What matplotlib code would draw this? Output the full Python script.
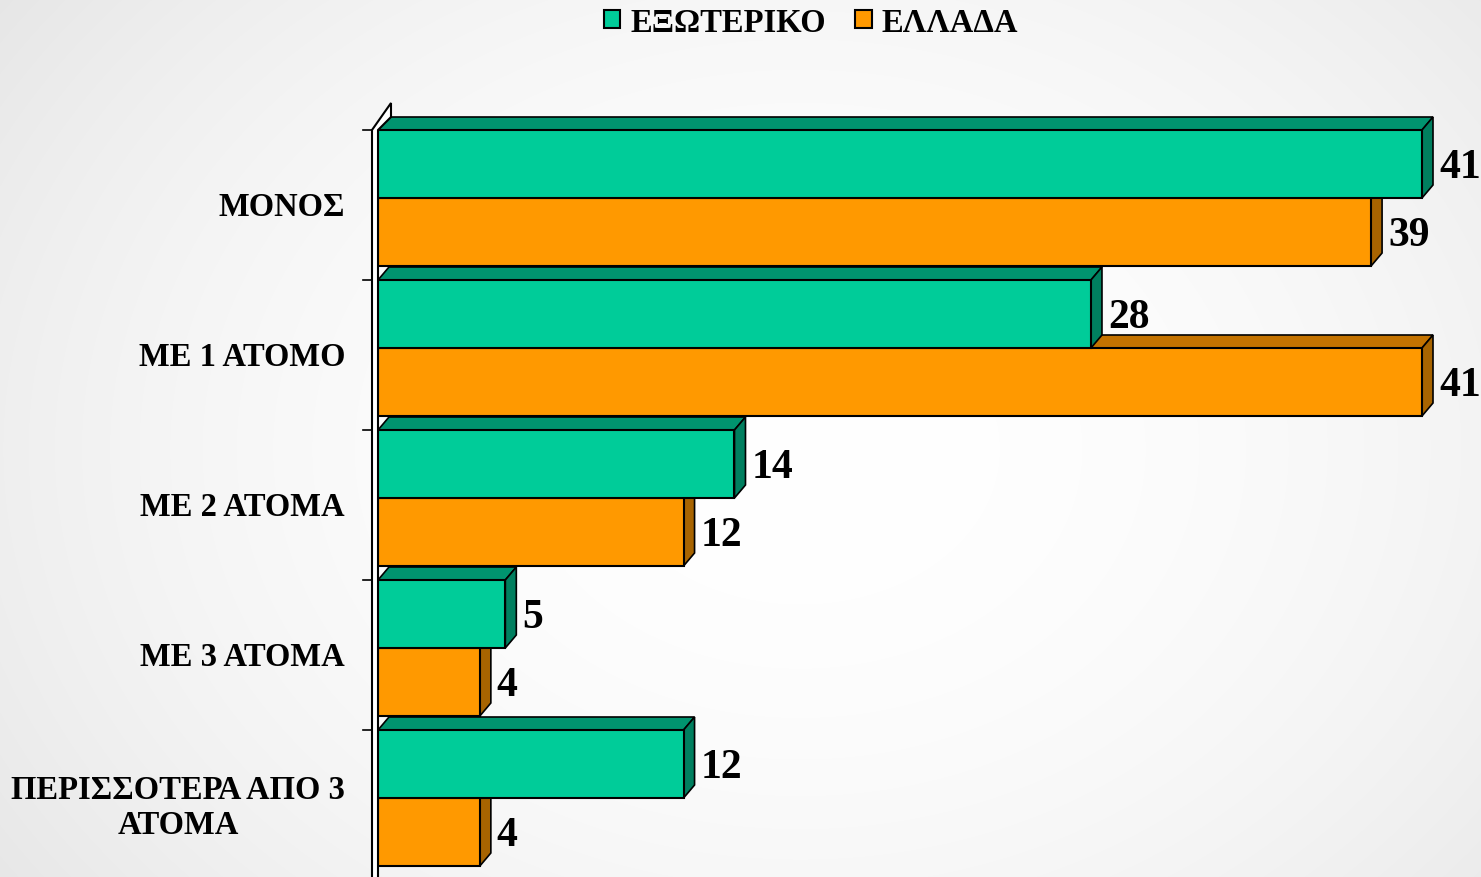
import matplotlib.pyplot as plt
import numpy as np
from matplotlib.patches import Polygon, Patch

# Δεδομένα
categories = ['ΜΟΝΟΣ', 'ΜΕ 1 ΑΤΟΜΟ', 'ΜΕ 2 ΑΤΟΜΑ', 'ΜΕ 3 ΑΤΟΜΑ', 'ΠΕΡΙΣΣΟΤΕΡΑ ΑΠΟ 3\nΑΤΟΜΑ']
exoteriko = [41, 28, 14, 5, 12]
ellada = [39, 41, 12, 4, 4]
series_names = ['ΕΞΩΤΕΡΙΚΟ', 'ΕΛΛΑΔΑ']

# Χρώματα (μπροστά, πάνω, πλάι)
green = ('#00CC99', '#00946F', '#007F5F')
orange = ('#FF9900', '#C47300', '#A86400')

plt.rcParams['font.family'] = ['Liberation Serif', 'DejaVu Serif']
plt.rcParams['font.weight'] = 'bold'

W, H = 1481, 878
fig = plt.figure(figsize=(W / 100, H / 100), dpi=100)

# φόντο με ακτινική διαβάθμιση
bg = fig.add_axes([0, 0, 1, 1])
yy, xx = np.mgrid[0:H, 0:W]
r = np.sqrt(((xx - 800) / 900.0) ** 2 + ((yy - 450) / 700.0) ** 2)
shade = np.clip(1 - 0.08 * r ** 2, 0.89, 1)
bg.imshow(np.dstack([shade] * 3), extent=[0, 1, 0, 1], aspect='auto')
bg.axis('off')

# κύριοι άξονες
left_px = 378
px_per_unit = 1044 / 41
ax = fig.add_axes([left_px / W, 0, (W - left_px) / W, 1])
xmax = (W - left_px) / px_per_unit
ymin, ymax = (878 - 199) / 150, -199 / 150
ax.set_xlim(0, xmax)
ax.set_ylim(ymin, ymax)
ax.axis('off')
ax.patch.set_alpha(0)

ux = xmax / (W - left_px)     # μονάδες x ανά pixel
uy = (ymin - ymax) / H        # μονάδες y ανά pixel
dx, dy = 11 * ux, 13 * uy
h = 68 * uy


def bar3d(y0, v, cols, z):
    ax.barh(y0 + h / 2, v, height=h, color=cols[0], edgecolor='black', lw=1.5, zorder=z + 0.5)
    top = [(0, y0), (dx, y0 - dy), (v + dx, y0 - dy), (v, y0)]
    side = [(v, y0), (v + dx, y0 - dy), (v + dx, y0 + h - dy), (v, y0 + h)]
    ax.add_patch(Polygon(top, closed=True, fc=cols[1], ec='black', lw=1.2, zorder=z))
    ax.add_patch(Polygon(side, closed=True, fc=cols[2], ec='black', lw=1.2, zorder=z))
    ax.text(v + dx + 6 * ux, y0 + h / 2 - 1 * uy, str(v), fontsize=30, fontweight='bold',
            ha='left', va='center_baseline', clip_on=False, zorder=5)


for i, (g, o) in enumerate(zip(exoteriko, ellada)):
    bar3d(i, o, orange, 1)
    bar3d(i - h, g, green, 2)

# τοίχωμα άξονα
def P(x, y):
    return ((x - left_px) * ux, (y - 199) / 150)

wall = [P(372, 885), P(372, 131), P(391, 104), P(391, 118), P(378, 131), P(378, 885)]
ax.add_patch(Polygon(wall, closed=True, fc='white', ec='black', lw=1.5, zorder=3, clip_on=False))

# υποδιαιρέσεις
for i in range(len(categories)):
    yb = i - h
    ax.plot([-15 * ux, -6 * ux], [yb, yb], color='black', lw=1.2, clip_on=False, zorder=3)

# ετικέτες κατηγοριών
for i, cat in enumerate(categories):
    ax.text(-33 * ux, i + 9 * uy, cat, fontsize=23.5, fontweight='bold', ha='right', va='center',
            multialignment='center', linespacing=1.2, clip_on=False)

# υπόμνημα
handles = [Patch(fc=green[0], ec='black', lw=1.5), Patch(fc=orange[0], ec='black', lw=1.5)]
fig.legend(handles, series_names, loc='center', bbox_to_anchor=(811 / W, 1 - 23 / H), ncol=2,
           frameon=False, prop={'size': 23.5, 'weight': 'bold'}, handlelength=0.5,
           handleheight=0.5, handletextpad=0.3, columnspacing=0.9)

fig.savefig('out.png', dpi=100)
